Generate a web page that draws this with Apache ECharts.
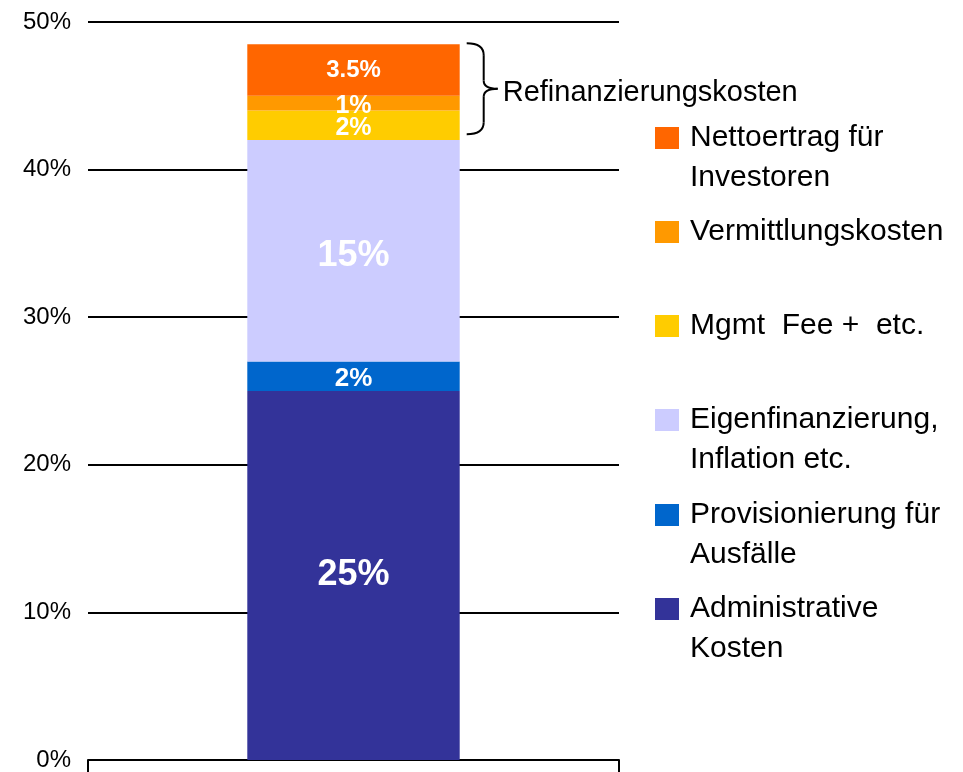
<!DOCTYPE html>
<html>
<head>
<meta charset="utf-8">
<script src="https://cdn.jsdelivr.net/npm/echarts@6/dist/echarts.min.js"></script>
<style>
html,body{margin:0;padding:0;background:#fff;}
#main{width:963px;height:772px;}
</style>
</head>
<body>
<div id="main"></div>
<script>
// ---- data ----
const categories = [''];
const seriesNames = [
  'Administrative Kosten',
  'Provisionierung für Ausfälle',
  'Eigenfinanzierung, Inflation etc.',
  'Mgmt Fee + etc.',
  'Vermittlungskosten',
  'Nettoertrag für Investoren'
];
const legendLabels = [
  'Administrative\nKosten',
  'Provisionierung für\nAusfälle',
  'Eigenfinanzierung,\nInflation etc.',
  'Mgmt  Fee +  etc.',
  'Vermittlungskosten',
  'Nettoertrag für\nInvestoren'
];
const adminValues = [25];
const provisionValues = [2];
const equityValues = [15];
const mgmtValues = [2];
const brokerValues = [1];
const netReturnValues = [3.5];
const yTickLabels = ['0%', '10%', '20%', '30%', '40%', '50%'];
const annotationText = 'Refinanzierungskosten';
const refinanceFrom = 42; // start of bracketed range (cumulative %)

// ---- styles ----
const colors = ['#333399', '#0066CC', '#CCCCFF', '#FFCC00', '#FF9900', '#FF6600'];
const labelSizes = [36, 26, 36, 25, 25, 24];
const labelOffsets = [[0, 0], [0, 3], [0, 5], [0, 3], [0, 3], [0, 0]];
const allValues = [adminValues, provisionValues, equityValues, mgmtValues, brokerValues, netReturnValues];
const legendIconTops = [598, 504, 409, 315, 221, 127];
const FONT = '"Liberation Sans", Arial, sans-serif';

const chart = echarts.init(document.getElementById('main'));

const series = seriesNames.map((name, i) => ({
  name: name,
  type: 'bar',
  stack: 'total',
  barWidth: '40%',
  data: allValues[i],
  itemStyle: { color: colors[i] },
  label: {
    show: true,
    position: 'inside',
    offset: labelOffsets[i],
    color: '#fff',
    fontWeight: 'bold',
    fontFamily: FONT,
    fontSize: labelSizes[i],
    formatter: p => p.value + '%'
  },
  emphasis: { disabled: true },
  animation: false
}));

const legends = seriesNames.map((name, i) => {
  const twoLines = legendLabels[i].indexOf('\n') >= 0;
  // a leading blank line keeps the first text line level with the icon
  const shown = twoLines ? ' \n' + legendLabels[i] : legendLabels[i];
  return {
    orient: 'vertical',
    left: 655,
    top: twoLines ? legendIconTops[i] - 49 : legendIconTops[i] - 9,
    padding: 0,
    icon: 'rect',
    itemWidth: 24,
    itemHeight: 22,
    selectedMode: false,
    data: [name],
    formatter: () => shown,
    textStyle: {
      color: '#000',
      fontFamily: FONT,
      fontSize: 30,
      lineHeight: 40,
      padding: [0, 0, 0, 6]
    }
  };
});

chart.setOption({
  backgroundColor: '#fff',
  animation: false,
  grid: { left: 88, right: 344, top: 22, bottom: 12, containLabel: false, outerBoundsMode: 'none' },
  xAxis: {
    type: 'category',
    data: categories,
    axisLine: { show: true, lineStyle: { color: '#000', width: 2 } },
    axisTick: { show: true, length: 12, lineStyle: { color: '#000', width: 2 } },
    axisLabel: { show: false }
  },
  yAxis: {
    type: 'value',
    min: 0,
    max: 50,
    interval: 10,
    axisLine: { show: false },
    axisTick: { show: false },
    axisLabel: {
      color: '#000',
      fontFamily: FONT,
      fontSize: 24,
      margin: 17,
      formatter: v => yTickLabels[Math.round(v / 10)]
    },
    splitLine: { show: true, lineStyle: { color: '#000', width: 2 } }
  },
  legend: legends,
  series: series
});

// ---- bracket annotation computed from the axes ----
const total = allValues.reduce((s, a) => s + a[0], 0);
const topLayout = chart.getModel().getSeriesByIndex(5).getData().getItemLayout(0);
const barRight = topLayout.x + topLayout.width;
const yTop = chart.convertToPixel({ yAxisIndex: 0 }, total) - 1;
const yBot = chart.convertToPixel({ yAxisIndex: 0 }, refinanceFrom + 0.4);
const x0 = barRight + 7;
const xv = x0 + 17;
const xt = x0 + 31;
const ym = (yTop + yBot) / 2;
const braceStyle = { fill: 'none', stroke: '#000', lineWidth: 2 };

chart.setOption({
  graphic: [
    { type: 'bezierCurve', shape: { x1: x0, y1: yTop, x2: xv, y2: yTop + 12, cpx1: xv, cpy1: yTop }, style: braceStyle },
    { type: 'line', shape: { x1: xv, y1: yTop + 12, x2: xv, y2: ym - 8 }, style: braceStyle },
    { type: 'bezierCurve', shape: { x1: xv, y1: ym - 8, x2: xt, y2: ym, cpx1: xv, cpy1: ym }, style: braceStyle },
    { type: 'bezierCurve', shape: { x1: xt, y1: ym, x2: xv, y2: ym + 8, cpx1: xv, cpy1: ym }, style: braceStyle },
    { type: 'line', shape: { x1: xv, y1: ym + 8, x2: xv, y2: yBot - 12 }, style: braceStyle },
    { type: 'bezierCurve', shape: { x1: xv, y1: yBot - 12, x2: x0, y2: yBot, cpx1: xv, cpy1: yBot }, style: braceStyle },
    {
      type: 'text',
      x: xt + 5,
      y: ym + 4,
      style: {
        text: annotationText,
        fill: '#000',
        fontFamily: FONT,
        fontSize: 29,
        verticalAlign: 'middle',
        align: 'left'
      }
    }
  ]
});
</script>
</body>
</html>
